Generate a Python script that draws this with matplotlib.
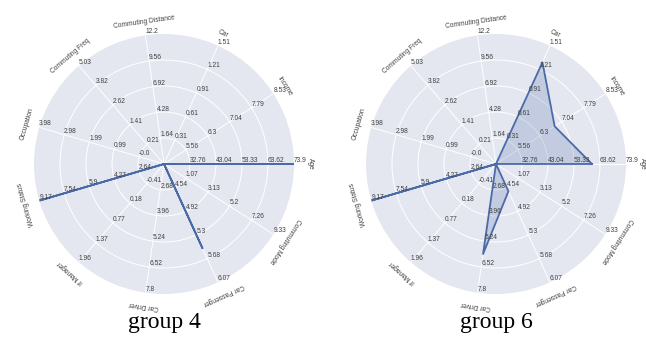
import numpy as np
import matplotlib
matplotlib.use('Agg')
import matplotlib.pyplot as plt

# Axis names, counter-clockwise starting from the right
categories = ['Age', 'Income', 'Car', 'Commuting Distance', 'Commuting Freq',
              'Occupation', 'Working Status', 'If Manager', 'Car Driver',
              'Car Passenger', 'Commuting Mode']

# Tick labels printed on each spoke (rings 1..5, outermost last)
tick_labels = [
    ['32.76', '43.04', '53.33', '63.62', '73.9'],
    ['5.56', '6.3', '7.04', '7.79', '8.53'],
    ['0.31', '0.61', '0.91', '1.21', '1.51'],
    ['1.64', '4.28', '6.92', '9.56', '12.2'],
    ['0.21', '1.41', '2.62', '3.82', '5.03'],
    ['-0.0', '0.99', '1.99', '2.98', '3.98'],
    ['2.64', '4.27', '5.9', '7.54', '9.17'],
    ['-0.41', '0.18', '0.77', '1.37', '1.96'],
    ['2.68', '3.96', '5.24', '6.52', '7.8'],
    ['4.54', '4.92', '5.3', '5.68', '6.07'],
    ['1.07', '3.13', '5.2', '7.26', '9.33'],
]

# Value at the centre of each spoke
axis_min = [22.47, 4.82, 0.01, -1.0, -0.99, -1.0, 1.01, -1.0, 1.4, 4.16, -1.0]
# Value at the outer edge of each spoke
axis_max = [73.9, 8.53, 1.51, 12.2, 5.03, 3.98, 9.17, 1.96, 7.8, 6.07, 9.33]

group4 = [73.9, 4.82, 0.01, -1.0, -0.99, -1.0, 9.17, -1.0, 1.4, 5.52, -1.0]
group6 = [60.43, 6.81, 1.30, -1.0, -0.99, -1.0, 9.17, -1.0, 5.88, 4.60, -1.0]

groups = [('group 4', group4), ('group 6', group6)]

BG = '#e4e7f0'
LINE = '#4a6aa8'
TXT = '#404040'
SANS = 'Liberation Sans'

n = len(categories)
angles = np.arange(n) * 2 * np.pi / n
rings = [0.2, 0.4, 0.6, 0.8]


def scale(values):
    lo = np.array(axis_min)
    hi = np.array(axis_max)
    return (np.array(values) - lo) / (hi - lo)


def draw_radar(ax, values):
    ax.set_facecolor(BG)
    ax.set_ylim(0, 1)
    ax.grid(False)
    ax.set_xticks([])
    ax.set_yticks([])
    ax.spines['polar'].set_visible(False)

    full = np.linspace(0, 2 * np.pi, 300)
    for r in rings:
        ax.plot(full, [r] * len(full), color='white', lw=0.7, zorder=1)
    for a in angles:
        ax.plot([a, a], [0, 1], color='white', lw=0.7, zorder=1)

    # polygon
    r = scale(values)
    th = np.append(angles, angles[0])
    rr = np.append(r, r[0])
    ax.fill(th, rr, color=LINE, alpha=0.22, lw=0, zorder=2)
    ax.plot(th, rr, color=LINE, lw=1.3, zorder=3)

    # tick labels along each spoke
    for a, labels in zip(angles, tick_labels):
        for k, lab in enumerate(labels):
            ax.text(a, 0.2 * (k + 1), lab, ha='left', va='bottom',
                    fontsize=4.8, color=TXT, family=SANS, zorder=4)

    # axis names, tangential
    for a, name in zip(angles, categories):
        rad = 1.13 if name == 'Age' else 1.1
        ax.text(a, rad, name, ha='center', va='center',
                rotation=np.degrees(a) - 90, fontsize=4.8, color=TXT,
                family=SANS)


fig = plt.figure(figsize=(6.46, 3.43), dpi=100)
centers = [164, 496]
R = 130
for (title, vals), cx in zip(groups, centers):
    ax = fig.add_axes([(cx - R) / 646, (343 - 164 - R) / 343, 2 * R / 646, 2 * R / 343],
                      projection='polar')
    draw_radar(ax, vals)
    fig.text(cx / 646, 1 - 328 / 343, title, ha='center', va='baseline',
             family='Liberation Serif', fontsize=17, color='black')

fig.savefig('out.png', dpi=100)
